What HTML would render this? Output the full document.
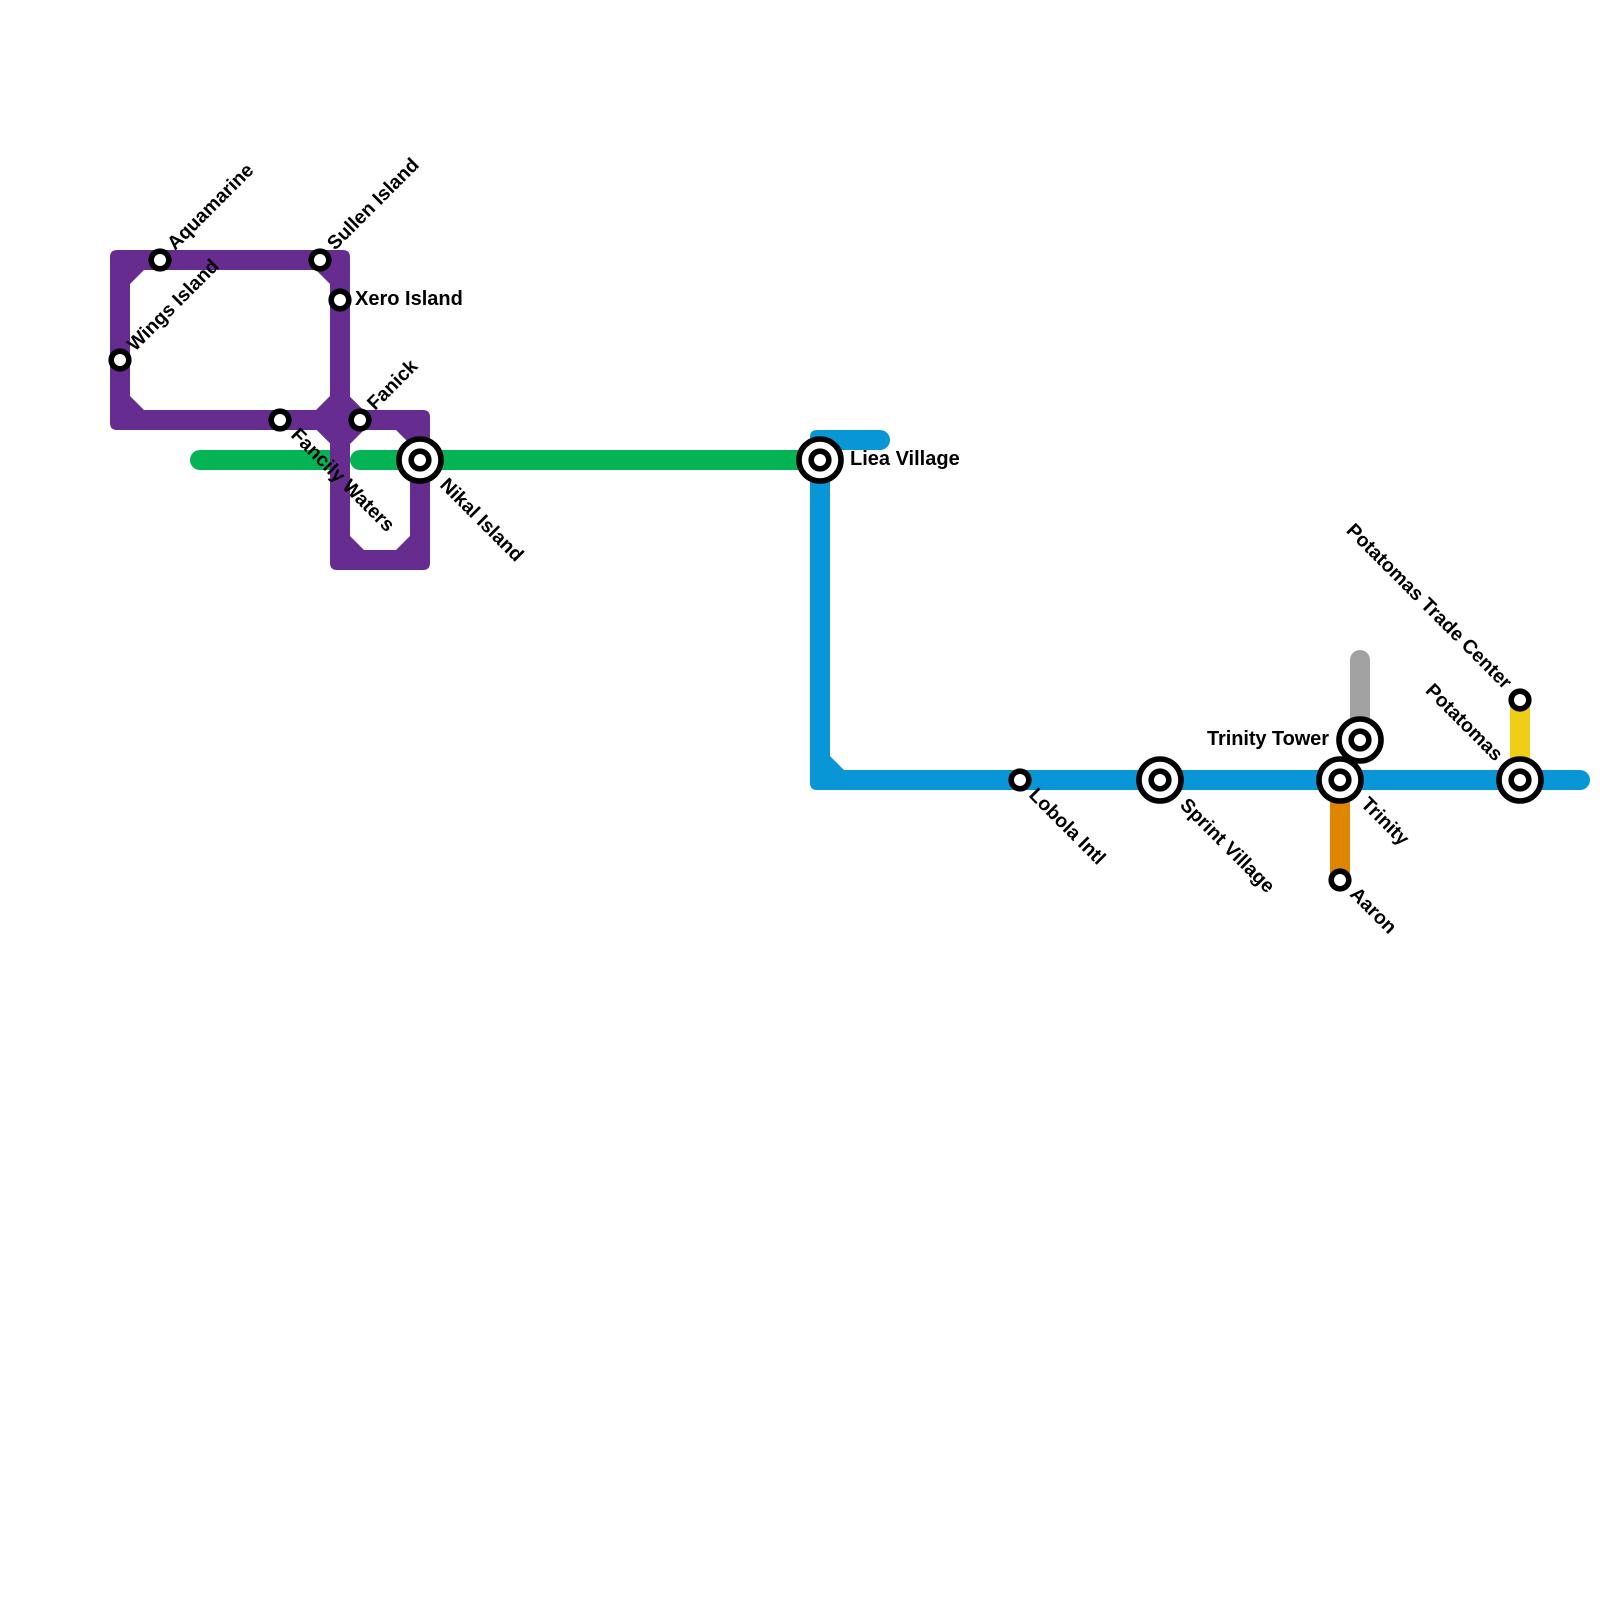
<!DOCTYPE html>
<html><head><meta charset="utf-8"><style>html,body{margin:0;padding:0;background:#fff}svg{display:block}text{font-family:"Liberation Sans",Arial,sans-serif;font-weight:bold;font-size:20px;fill:#000}.r{font-size:19.5px}</style></head><body>
<svg width="1600" height="1600" viewBox="0 0 1600 1600" xmlns="http://www.w3.org/2000/svg">
<rect width="1600" height="1600" fill="#fff"/>
<g fill="none" stroke-width="20" stroke-linecap="round">
<path d="M200 460H335" stroke="#04b354"/>
<path d="M360 460H820" stroke="#04b354"/>
<path d="M1360 660V740" stroke="#a2a2a2"/>
<path d="M1340 780V880" stroke="#df8600"/>
<path d="M1520 700V780" stroke="#f0ce15"/>
</g>
<path fill="#662c90" fill-rule="evenodd" d="M117 250H343Q350 250 350 257V396.7L363.3 410H423Q430 410 430 417V563Q430 570 423 570H337Q330 570 330 563V443.3L316.7 430H117Q110 430 110 423V257Q110 250 117 250Z
M144 270L130 284V396L144 410H316L330 396V284L316 270Z
M364 430L350 444V536L364 550H396L410 536V444L396 430Z"/>
<path fill="#0896d7" d="M817 430H880A10 10 0 0 1 880 450H830V756L844 770H1580A10 10 0 0 1 1580 790H817Q810 790 810 783V437Q810 430 817 430Z"/>
<g fill="#fff" stroke="#000" stroke-width="5.6">
<circle cx="160" cy="260" r="8.8"/><circle cx="320" cy="260" r="8.8"/><circle cx="340" cy="300" r="8.8"/><circle cx="120" cy="360" r="8.8"/><circle cx="280" cy="420" r="8.8"/><circle cx="360" cy="420" r="8.8"/><circle cx="1020" cy="780" r="8.8"/><circle cx="1340" cy="880" r="8.8"/><circle cx="1520" cy="700" r="8.8"/>
<circle cx="420" cy="460" r="21"/><circle cx="820" cy="460" r="21"/><circle cx="1160" cy="780" r="21"/><circle cx="1360" cy="740" r="21"/><circle cx="1340" cy="780" r="21"/><circle cx="1520" cy="780" r="21"/>
<circle cx="420" cy="460" r="8.8"/><circle cx="820" cy="460" r="8.8"/><circle cx="1160" cy="780" r="8.8"/><circle cx="1360" cy="740" r="8.8"/><circle cx="1340" cy="780" r="8.8"/><circle cx="1520" cy="780" r="8.8"/>
</g>
<text x="355" y="305">Xero Island</text>
<text x="850" y="465">Liea Village</text>
<text x="1329" y="745" text-anchor="end" textLength="122">Trinity Tower</text>
<g class="r">
<text class="r" transform="translate(175 251) rotate(-45)">Aquamarine</text>
<text class="r" transform="translate(335 251) rotate(-45)">Sullen Island</text>
<text class="r" transform="translate(135 352) rotate(-45)">Wings Island</text>
<text class="r" transform="translate(375 411) rotate(-45)">Fanick</text>
<text class="r" transform="translate(290 436) rotate(45)">Fancily Waters</text>
<text class="r" transform="translate(439 486) rotate(45)">Nikal Island</text>
<text class="r" transform="translate(1028 796) rotate(45)">Lobola Intl</text>
<text class="r" transform="translate(1179 806) rotate(45)">Sprint Village</text>
<text class="r" transform="translate(1360 805) rotate(45)">Trinity</text>
<text class="r" transform="translate(1349 895) rotate(45)">Aaron</text>
<text class="r" transform="translate(1504 690) rotate(45)" text-anchor="end">Potatomas Trade Center</text>
<text class="r" transform="translate(1495 762) rotate(45)" text-anchor="end">Potatomas</text>
</g>
</svg>
</body></html>
